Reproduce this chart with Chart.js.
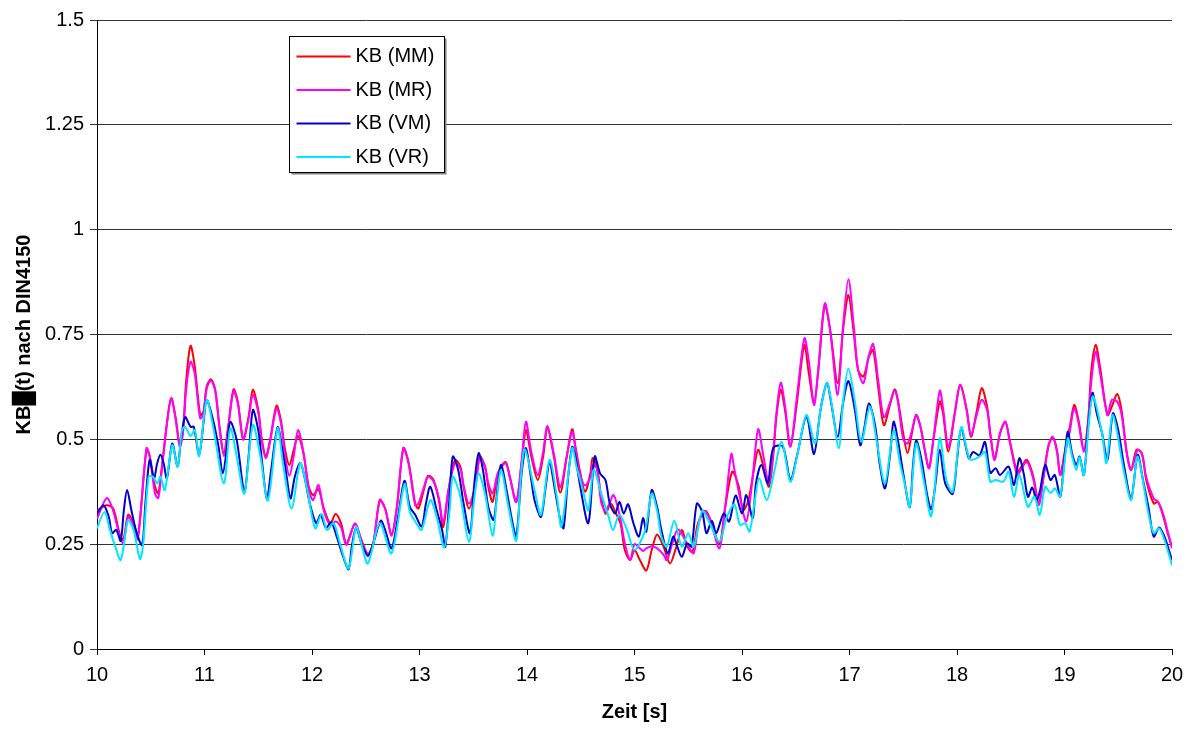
<!DOCTYPE html>
<html lang="de">
<head>
<meta charset="utf-8">
<title>KB(t) nach DIN4150</title>
<script src="https://cdn.jsdelivr.net/npm/chart.js@4.4.1/dist/chart.umd.min.js"></script>
<style>
  html, body { margin: 0; padding: 0; background: #fff; }
  #wrap { position: relative; width: 1193px; height: 730px; }
</style>
</head>
<body>
<div id="wrap"><canvas id="kbChart"></canvas></div>
<script>
// Axis ranges as printed on the chart
const X_MIN = 10, X_MAX = 20, X_STEP = 1;
const Y_MIN = 0, Y_MAX = 1.5, Y_STEP = 0.25;

const seriesLabels = ['KB (MM)', 'KB (MR)', 'KB (VM)', 'KB (VR)'];
const seriesColors = ['#ff0000', '#ff00ff', '#0000cc', '#00e8ff'];

// [time s, KB value]
const kbMM = [
  [10.00,0.330],[10.09,0.343],[10.15,0.335],[10.21,0.276],[10.245,0.260],[10.29,0.320],[10.34,0.300],[10.38,0.268],
  [10.46,0.475],[10.49,0.460],[10.54,0.387],[10.57,0.371],[10.60,0.427],[10.65,0.538],[10.69,0.598],[10.73,0.554],
  [10.77,0.490],[10.80,0.522],[10.83,0.641],[10.87,0.723],[10.91,0.673],[10.96,0.558],[10.99,0.566],[11.02,0.626],
  [11.06,0.643],[11.10,0.618],[11.14,0.530],[11.18,0.467],[11.22,0.530],[11.27,0.619],[11.31,0.590],[11.36,0.500],
  [11.41,0.554],[11.45,0.618],[11.50,0.570],[11.53,0.506],[11.57,0.459],[11.61,0.498],[11.67,0.580],[11.71,0.546],
  [11.75,0.475],[11.79,0.439],[11.83,0.475],[11.87,0.508],[11.92,0.467],[11.97,0.387],[12.01,0.367],[12.06,0.381],
  [12.11,0.335],[12.17,0.300],[12.22,0.322],[12.27,0.300],[12.32,0.252],[12.40,0.298],[12.46,0.260],[12.52,0.227],
  [12.57,0.252],[12.63,0.354],[12.68,0.335],[12.74,0.274],[12.79,0.339],[12.85,0.479],[12.90,0.443],[12.96,0.347],
  [12.99,0.335],[13.04,0.379],[13.08,0.413],[13.13,0.403],[13.18,0.355],[13.22,0.291],[13.27,0.379],[13.33,0.451],
  [13.38,0.435],[13.41,0.387],[13.46,0.335],[13.52,0.387],[13.56,0.459],[13.61,0.435],[13.64,0.387],[13.68,0.351],
  [13.73,0.419],[13.80,0.446],[13.84,0.411],[13.90,0.351],[13.95,0.443],[13.99,0.522],[14.04,0.459],[14.10,0.403],
  [14.15,0.459],[14.19,0.526],[14.25,0.459],[14.31,0.373],[14.37,0.459],[14.42,0.524],[14.45,0.483],[14.49,0.427],
  [14.54,0.375],[14.59,0.419],[14.61,0.455],[14.65,0.435],[14.69,0.363],[14.73,0.323],[14.78,0.347],[14.82,0.327],
  [14.87,0.299],[14.91,0.236],[14.96,0.212],[15.00,0.236],[15.05,0.212],[15.11,0.187],[15.16,0.236],[15.21,0.273],
  [15.27,0.244],[15.33,0.204],[15.38,0.236],[15.44,0.284],[15.49,0.244],[15.54,0.232],[15.59,0.300],[15.66,0.329],
  [15.70,0.312],[15.79,0.252],[15.84,0.332],[15.91,0.423],[15.97,0.387],[16.01,0.331],[16.06,0.355],[16.11,0.427],
  [16.15,0.475],[16.20,0.435],[16.25,0.387],[16.29,0.459],[16.32,0.554],[16.36,0.618],[16.40,0.570],[16.45,0.483],
  [16.51,0.586],[16.58,0.725],[16.62,0.660],[16.67,0.586],[16.71,0.665],[16.77,0.820],[16.82,0.761],[16.89,0.634],
  [16.94,0.761],[16.99,0.844],[17.04,0.753],[17.08,0.665],[17.13,0.650],[17.18,0.697],[17.22,0.713],[17.27,0.618],
  [17.32,0.534],[17.38,0.586],[17.42,0.619],[17.45,0.594],[17.50,0.514],[17.54,0.467],[17.58,0.514],[17.62,0.558],
  [17.66,0.530],[17.70,0.475],[17.74,0.431],[17.78,0.498],[17.84,0.590],[17.87,0.562],[17.92,0.471],[17.98,0.562],
  [18.03,0.630],[18.09,0.570],[18.13,0.506],[18.18,0.562],[18.23,0.622],[18.28,0.578],[18.31,0.514],[18.35,0.455],
  [18.40,0.514],[18.45,0.542],[18.49,0.498],[18.56,0.423],[18.60,0.435],[18.65,0.451],[18.71,0.411],[18.76,0.347],
  [18.80,0.403],[18.85,0.483],[18.89,0.505],[18.93,0.474],[18.96,0.415],[19.00,0.467],[19.05,0.530],[19.09,0.582],
  [19.13,0.546],[19.18,0.475],[19.22,0.546],[19.25,0.665],[19.29,0.725],[19.33,0.673],[19.40,0.558],[19.44,0.578],
  [19.49,0.608],[19.53,0.570],[19.58,0.467],[19.62,0.427],[19.67,0.475],[19.72,0.467],[19.76,0.403],[19.83,0.347],
  [19.87,0.351],[19.92,0.315],[19.96,0.276],[20.00,0.244]
];

const kbMR = [
  [10.00,0.310],[10.09,0.360],[10.15,0.330],[10.21,0.270],[10.245,0.252],[10.29,0.315],[10.34,0.295],[10.38,0.262],
  [10.46,0.479],[10.49,0.460],[10.54,0.370],[10.57,0.360],[10.60,0.420],[10.65,0.535],[10.69,0.598],[10.73,0.550],
  [10.77,0.482],[10.80,0.515],[10.83,0.620],[10.87,0.685],[10.91,0.655],[10.96,0.550],[10.99,0.560],[11.02,0.620],
  [11.06,0.640],[11.10,0.615],[11.14,0.525],[11.18,0.460],[11.22,0.525],[11.27,0.615],[11.31,0.585],[11.36,0.500],
  [11.41,0.550],[11.45,0.606],[11.50,0.565],[11.53,0.500],[11.57,0.455],[11.61,0.495],[11.67,0.574],[11.71,0.540],
  [11.75,0.460],[11.79,0.413],[11.83,0.460],[11.87,0.522],[11.92,0.470],[11.97,0.380],[12.01,0.355],[12.06,0.391],
  [12.11,0.330],[12.17,0.296],[12.22,0.304],[12.27,0.290],[12.32,0.248],[12.40,0.300],[12.46,0.258],[12.52,0.225],
  [12.57,0.250],[12.63,0.356],[12.68,0.335],[12.74,0.270],[12.79,0.340],[12.85,0.479],[12.90,0.440],[12.96,0.343],
  [12.99,0.347],[13.04,0.385],[13.08,0.411],[13.13,0.400],[13.18,0.360],[13.22,0.302],[13.27,0.380],[13.33,0.443],
  [13.38,0.430],[13.41,0.390],[13.46,0.347],[13.52,0.390],[13.56,0.455],[13.61,0.432],[13.64,0.395],[13.68,0.371],
  [13.73,0.420],[13.80,0.443],[13.84,0.410],[13.90,0.351],[13.95,0.450],[13.99,0.542],[14.04,0.470],[14.10,0.415],
  [14.15,0.470],[14.19,0.532],[14.25,0.465],[14.31,0.386],[14.37,0.460],[14.42,0.518],[14.45,0.480],[14.49,0.420],
  [14.54,0.390],[14.59,0.410],[14.61,0.439],[14.65,0.430],[14.69,0.350],[14.73,0.330],[14.78,0.355],[14.80,0.367],
  [14.82,0.360],[14.87,0.310],[14.91,0.252],[14.96,0.212],[15.00,0.250],[15.05,0.240],[15.08,0.234],[15.11,0.240],
  [15.16,0.245],[15.21,0.240],[15.27,0.225],[15.30,0.212],[15.35,0.250],[15.40,0.285],[15.44,0.275],[15.49,0.250],
  [15.55,0.228],[15.59,0.290],[15.64,0.330],[15.70,0.310],[15.79,0.240],[15.84,0.330],[15.90,0.465],[15.93,0.427],
  [15.98,0.363],[16.04,0.304],[16.09,0.387],[16.15,0.524],[16.20,0.459],[16.25,0.395],[16.29,0.470],[16.32,0.562],
  [16.36,0.635],[16.40,0.580],[16.45,0.483],[16.51,0.600],[16.58,0.741],[16.62,0.690],[16.67,0.582],[16.71,0.670],
  [16.77,0.824],[16.82,0.760],[16.89,0.606],[16.94,0.770],[16.99,0.882],[17.04,0.770],[17.08,0.665],[17.13,0.634],
  [17.18,0.700],[17.22,0.727],[17.27,0.635],[17.32,0.553],[17.38,0.590],[17.42,0.616],[17.45,0.590],[17.50,0.500],
  [17.54,0.490],[17.58,0.520],[17.62,0.558],[17.66,0.530],[17.70,0.475],[17.74,0.431],[17.78,0.500],[17.84,0.616],
  [17.87,0.575],[17.92,0.482],[17.98,0.565],[18.03,0.630],[18.09,0.570],[18.13,0.510],[18.18,0.555],[18.23,0.594],
  [18.28,0.570],[18.31,0.510],[18.35,0.450],[18.40,0.514],[18.45,0.542],[18.49,0.495],[18.56,0.415],[18.60,0.430],
  [18.65,0.447],[18.71,0.405],[18.76,0.343],[18.80,0.400],[18.85,0.485],[18.89,0.506],[18.93,0.470],[18.96,0.415],
  [19.00,0.460],[19.05,0.520],[19.09,0.574],[19.13,0.540],[19.18,0.470],[19.22,0.540],[19.25,0.640],[19.29,0.709],
  [19.33,0.660],[19.40,0.558],[19.44,0.594],[19.49,0.590],[19.53,0.560],[19.58,0.465],[19.62,0.427],[19.68,0.475],
  [19.72,0.465],[19.76,0.410],[19.83,0.359],[19.87,0.351],[19.92,0.320],[19.96,0.280],[20.00,0.240]
];

const kbVM = [
  [10.00,0.323],[10.06,0.343],[10.11,0.315],[10.14,0.276],[10.18,0.284],[10.22,0.258],[10.25,0.331],[10.28,0.379],
  [10.32,0.331],[10.37,0.276],[10.42,0.248],[10.45,0.347],[10.49,0.451],[10.53,0.407],[10.56,0.443],[10.59,0.463],
  [10.62,0.443],[10.65,0.407],[10.70,0.490],[10.75,0.435],[10.78,0.498],[10.82,0.553],[10.87,0.530],[10.90,0.530],
  [10.95,0.463],[10.99,0.538],[11.02,0.594],[11.08,0.546],[11.13,0.483],[11.17,0.419],[11.21,0.483],[11.24,0.542],
  [11.30,0.498],[11.37,0.375],[11.41,0.459],[11.45,0.570],[11.50,0.522],[11.53,0.459],[11.58,0.359],[11.62,0.427],
  [11.68,0.529],[11.72,0.483],[11.76,0.419],[11.80,0.359],[11.84,0.411],[11.89,0.444],[11.93,0.411],[11.98,0.347],
  [12.04,0.300],[12.08,0.320],[12.13,0.289],[12.18,0.302],[12.23,0.268],[12.29,0.220],[12.34,0.190],[12.37,0.244],
  [12.41,0.289],[12.46,0.252],[12.52,0.222],[12.57,0.252],[12.64,0.306],[12.68,0.284],[12.74,0.240],[12.80,0.315],
  [12.86,0.401],[12.91,0.339],[12.96,0.320],[13.02,0.292],[13.06,0.347],[13.10,0.387],[13.16,0.331],[13.21,0.284],
  [13.24,0.244],[13.28,0.363],[13.31,0.459],[13.36,0.427],[13.41,0.347],[13.47,0.276],[13.51,0.395],[13.55,0.467],
  [13.59,0.427],[13.64,0.339],[13.69,0.308],[13.73,0.395],[13.76,0.439],[13.81,0.379],[13.86,0.308],[13.90,0.268],
  [13.95,0.419],[13.99,0.479],[14.04,0.403],[14.07,0.355],[14.13,0.315],[14.17,0.379],[14.21,0.443],[14.26,0.379],
  [14.31,0.307],[14.34,0.288],[14.38,0.403],[14.42,0.482],[14.45,0.459],[14.49,0.395],[14.57,0.300],[14.63,0.459],
  [14.68,0.419],[14.73,0.403],[14.77,0.347],[14.82,0.323],[14.86,0.351],[14.90,0.323],[14.94,0.345],[14.99,0.300],
  [15.04,0.268],[15.08,0.312],[15.11,0.280],[15.16,0.379],[15.21,0.339],[15.25,0.284],[15.31,0.228],[15.36,0.268],
  [15.39,0.250],[15.44,0.220],[15.49,0.252],[15.53,0.244],[15.58,0.347],[15.63,0.327],[15.67,0.276],[15.72,0.306],
  [15.76,0.276],[15.83,0.323],[15.88,0.304],[15.94,0.366],[16.00,0.323],[16.04,0.367],[16.10,0.312],[16.13,0.395],
  [16.18,0.439],[16.24,0.395],[16.29,0.479],[16.38,0.483],[16.45,0.403],[16.51,0.459],[16.60,0.554],[16.67,0.465],
  [16.73,0.570],[16.79,0.634],[16.83,0.586],[16.89,0.506],[16.94,0.586],[16.99,0.639],[17.05,0.570],[17.10,0.486],
  [17.14,0.530],[17.18,0.586],[17.24,0.530],[17.28,0.443],[17.33,0.383],[17.38,0.470],[17.41,0.542],[17.45,0.498],
  [17.50,0.419],[17.56,0.338],[17.59,0.435],[17.62,0.497],[17.67,0.451],[17.72,0.371],[17.76,0.333],[17.80,0.395],
  [17.84,0.475],[17.89,0.395],[17.96,0.370],[18.00,0.451],[18.04,0.526],[18.11,0.455],[18.15,0.470],[18.21,0.462],
  [18.26,0.494],[18.31,0.420],[18.36,0.431],[18.40,0.415],[18.48,0.435],[18.53,0.391],[18.58,0.455],[18.62,0.419],
  [18.66,0.363],[18.70,0.385],[18.74,0.355],[18.77,0.375],[18.82,0.439],[18.87,0.403],[18.91,0.415],[18.96,0.363],
  [18.99,0.427],[19.03,0.518],[19.07,0.467],[19.11,0.439],[19.14,0.459],[19.18,0.415],[19.22,0.530],[19.26,0.611],
  [19.30,0.562],[19.35,0.514],[19.40,0.451],[19.45,0.562],[19.50,0.522],[19.55,0.443],[19.62,0.359],[19.68,0.463],
  [19.73,0.403],[19.78,0.340],[19.83,0.268],[19.88,0.290],[19.93,0.268],[20.00,0.212]
];

const kbVR = [
  [10.00,0.288],[10.07,0.327],[10.12,0.284],[10.17,0.244],[10.22,0.212],[10.26,0.267],[10.29,0.307],[10.34,0.284],
  [10.40,0.215],[10.43,0.251],[10.48,0.411],[10.52,0.411],[10.56,0.395],[10.59,0.411],[10.63,0.379],[10.70,0.486],
  [10.75,0.435],[10.79,0.522],[10.82,0.530],[10.87,0.508],[10.91,0.522],[10.95,0.460],[11.02,0.594],[11.08,0.530],
  [11.18,0.395],[11.24,0.526],[11.30,0.459],[11.37,0.371],[11.45,0.534],[11.52,0.459],[11.59,0.354],[11.68,0.526],
  [11.73,0.443],[11.81,0.335],[11.89,0.443],[11.95,0.387],[12.03,0.288],[12.09,0.322],[12.14,0.284],[12.20,0.300],
  [12.26,0.252],[12.34,0.192],[12.41,0.291],[12.46,0.250],[12.52,0.204],[12.63,0.300],[12.74,0.228],[12.86,0.393],
  [12.91,0.327],[12.97,0.300],[13.02,0.284],[13.10,0.355],[13.16,0.315],[13.23,0.242],[13.28,0.330],[13.31,0.411],
  [13.38,0.363],[13.46,0.255],[13.51,0.360],[13.55,0.419],[13.61,0.370],[13.68,0.270],[13.72,0.360],[13.76,0.427],
  [13.83,0.335],[13.90,0.258],[13.94,0.400],[13.98,0.476],[14.07,0.379],[14.13,0.320],[14.21,0.451],[14.28,0.360],
  [14.32,0.292],[14.42,0.479],[14.46,0.435],[14.52,0.379],[14.57,0.331],[14.62,0.427],[14.69,0.371],[14.76,0.315],
  [14.80,0.284],[14.86,0.320],[14.93,0.284],[15.00,0.236],[15.10,0.284],[15.16,0.371],[15.21,0.330],[15.25,0.268],
  [15.30,0.244],[15.37,0.306],[15.44,0.244],[15.50,0.276],[15.55,0.244],[15.63,0.329],[15.70,0.300],[15.79,0.256],
  [15.86,0.315],[15.93,0.345],[15.98,0.296],[16.03,0.300],[16.07,0.280],[16.12,0.355],[16.16,0.407],[16.23,0.355],
  [16.29,0.411],[16.37,0.494],[16.45,0.399],[16.52,0.470],[16.60,0.558],[16.68,0.490],[16.73,0.570],[16.79,0.634],
  [16.83,0.590],[16.90,0.479],[16.94,0.590],[16.99,0.669],[17.05,0.590],[17.11,0.494],[17.19,0.578],[17.25,0.500],
  [17.33,0.395],[17.41,0.520],[17.47,0.443],[17.52,0.387],[17.56,0.339],[17.62,0.490],[17.69,0.403],[17.76,0.317],
  [17.84,0.502],[17.90,0.403],[17.96,0.375],[18.04,0.529],[18.12,0.452],[18.21,0.459],[18.26,0.470],[18.31,0.399],
  [18.36,0.403],[18.43,0.399],[18.48,0.423],[18.53,0.363],[18.58,0.415],[18.66,0.339],[18.72,0.363],[18.77,0.320],
  [18.82,0.387],[18.87,0.372],[18.91,0.383],[18.96,0.363],[19.03,0.502],[19.07,0.460],[19.11,0.427],[19.14,0.457],
  [19.18,0.415],[19.26,0.602],[19.35,0.514],[19.39,0.443],[19.45,0.558],[19.55,0.427],[19.62,0.355],[19.68,0.459],
  [19.78,0.324],[19.83,0.276],[19.88,0.288],[19.93,0.260],[20.00,0.200]
];

const seriesData = [kbMM, kbMR, kbVM, kbVR];

const FONT = "'Liberation Sans', Arial, Helvetica, sans-serif";

// Excel-style legend sitting inside the plot area, white box with a drop shadow.
const insetLegend = {
  id: 'insetLegend',
  afterDraw(chart) {
    const { ctx } = chart;
    const box = { x: 289.5, y: 36.5, w: 155, h: 136 };
    const rowH = 33.5;
    ctx.save();
    ctx.fillStyle = '#808080';
    ctx.fillRect(box.x + 2, box.y + 2, box.w, box.h);
    ctx.fillStyle = '#fff';
    ctx.fillRect(box.x, box.y, box.w, box.h);
    ctx.strokeStyle = '#000';
    ctx.lineWidth = 1;
    ctx.strokeRect(box.x, box.y, box.w, box.h);

    ctx.font = `20px ${FONT}`;
    ctx.textBaseline = 'middle';
    ctx.textAlign = 'left';
    chart.data.datasets.forEach((ds, i) => {
      const y = box.y + 20 + i * rowH;
      ctx.strokeStyle = ds.borderColor;
      ctx.lineWidth = 2;
      ctx.beginPath();
      ctx.moveTo(box.x + 7, y);
      ctx.lineTo(box.x + 61, y);
      ctx.stroke();
      ctx.fillStyle = '#000';
      ctx.fillText(ds.label, box.x + 66, y);
    });
    ctx.restore();
  },
};

new Chart(document.getElementById('kbChart'), {
  type: 'line',
  data: {
    datasets: seriesData.map((rows, i) => ({
      label: seriesLabels[i],
      data: rows.map(([t, v]) => ({ x: t, y: v })),
      borderColor: seriesColors[i],
      backgroundColor: seriesColors[i],
      borderWidth: 2,
      pointRadius: 0,
      tension: 0.3,
      fill: false,
      order: seriesData.length - i,
    })),
  },
  options: {
    responsive: true,
    maintainAspectRatio: false,
    animation: false,
    layout: { padding: { top: 20, right: 21, bottom: 0, left: 0 } },
    plugins: {
      legend: { display: false },
      tooltip: { enabled: false },
    },
    scales: {
      x: {
        type: 'linear',
        min: X_MIN,
        max: X_MAX,
        ticks: { stepSize: X_STEP, color: '#000', font: { family: FONT, size: 20 }, padding: 8 },
        grid: { drawOnChartArea: false, color: '#000', tickLength: 6 },
        border: { color: '#000' },
        title: {
          display: true,
          text: 'Zeit [s]',
          color: '#000',
          font: { family: FONT, size: 20, weight: 'bold' },
          padding: { top: 0, bottom: 6 },
        },
        afterFit: (scale) => { scale.height = 81; },
      },
      y: {
        min: Y_MIN,
        max: Y_MAX,
        ticks: {
          stepSize: Y_STEP,
          color: '#000',
          font: { family: FONT, size: 20 },
          padding: 6,
          callback: (v) => String(v),
        },
        grid: { color: '#333', tickLength: 7 },
        border: { color: '#000' },
        title: {
          display: true,
          text: 'KB\u2588(t) nach DIN4150',
          color: '#000',
          font: { family: FONT, size: 20, weight: 'bold' },
          padding: { top: 12, bottom: 0 },
        },
        afterFit: (scale) => { scale.width = 97; },
      },
    },
  },
  plugins: [insetLegend],
});
</script>
</body>
</html>
